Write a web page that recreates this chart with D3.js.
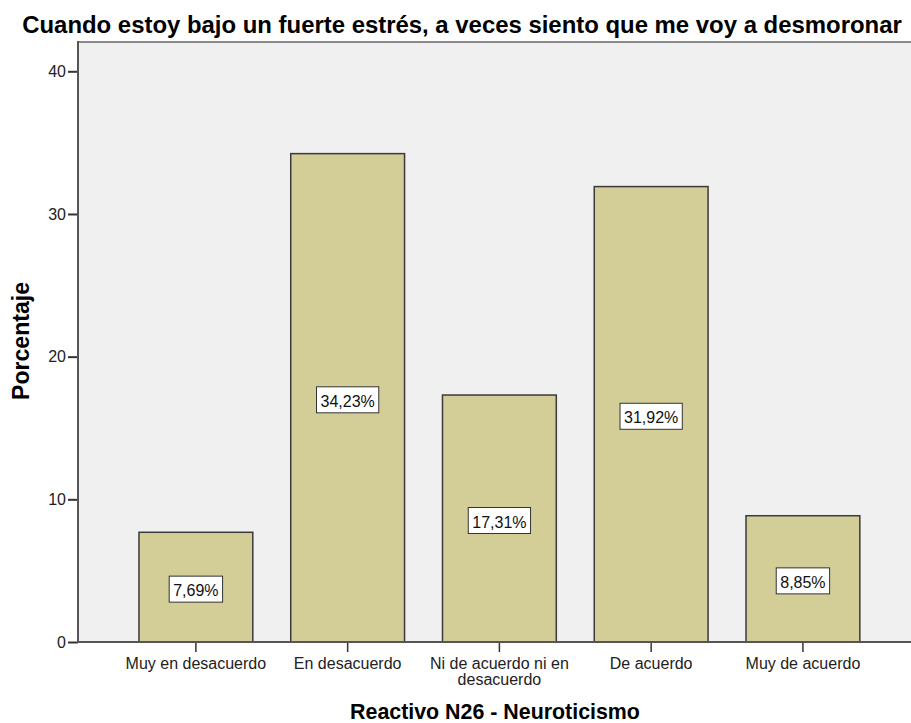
<!DOCTYPE html>
<html>
<head>
<meta charset="utf-8">
<script src="https://cdn.jsdelivr.net/npm/d3@7"></script>
<style>
  html, body { margin: 0; padding: 0; background: #ffffff; }
  svg { display: block; font-family: "Liberation Sans", Arial, sans-serif; }
</style>
</head>
<body>
<svg id="chart" width="911" height="723"></svg>
<script>
const categories = [
  ["Muy en desacuerdo"],
  ["En desacuerdo"],
  ["Ni de acuerdo ni en", "desacuerdo"],
  ["De acuerdo"],
  ["Muy de acuerdo"]
];
const values = [7.69, 34.23, 17.31, 31.92, 8.85];
const valueLabels = ["7,69%", "34,23%", "17,31%", "31,92%", "8,85%"];
const yTicks = [0, 10, 20, 30, 40];
const titleText = "Cuando estoy bajo un fuerte estrés, a veces siento que me voy a desmoronar";
const xTitleText = "Reactivo N26 - Neuroticismo";
const yTitleText = "Porcentaje";

const svg = d3.select("#chart");
const plot = { left: 78, right: 911, top: 42, bottom: 642 };

const y = d3.scaleLinear().domain([0, 40]).range([plot.bottom, 71.3]);
const x = d3.scaleBand()
  .domain(d3.range(values.length))
  .range([120, 878.8])
  .paddingInner(0.25)
  .paddingOuter(0.125);

// plot background
svg.append("rect")
  .attr("x", plot.left).attr("y", plot.top)
  .attr("width", plot.right - plot.left).attr("height", plot.bottom - plot.top)
  .attr("fill", "#f0f0f0");
// top frame line
svg.append("line")
  .attr("x1", plot.left).attr("x2", plot.right)
  .attr("y1", plot.top).attr("y2", plot.top)
  .attr("stroke", "#8a8a8a").attr("stroke-width", 2);

// bars
svg.append("g").selectAll("rect")
  .data(values)
  .join("rect")
  .attr("x", (d, i) => x(i))
  .attr("y", d => y(d))
  .attr("width", x.bandwidth())
  .attr("height", d => y(0) - y(d))
  .attr("fill", "#d3ce97")
  .attr("stroke", "#3a3a3a")
  .attr("stroke-width", 1.5);

// value label boxes
const lab = svg.append("g").selectAll("g")
  .data(values)
  .join("g")
  .attr("transform", (d, i) => `translate(${x(i) + x.bandwidth() / 2},${(y(d) + y(0)) / 2 + 2})`);
lab.append("rect").attr("class", "box")
  .attr("fill", "#ffffff").attr("stroke", "#333").attr("stroke-width", 1);
lab.append("text")
  .attr("text-anchor", "middle")
  .attr("y", 7)
  .attr("font-size", 16)
  .attr("fill", "#111")
  .text((d, i) => valueLabels[i]);
lab.each(function () {
  const g = d3.select(this);
  const w = g.select("text").node().getComputedTextLength();
  g.select("rect.box")
    .attr("x", -w / 2 - 4).attr("y", -13)
    .attr("width", w + 8).attr("height", 26);
});

// y axis
const yAxis = svg.append("g")
  .attr("transform", `translate(${plot.left},0)`)
  .call(d3.axisLeft(y).tickValues(yTicks).tickSize(10).tickPadding(2).tickFormat(d3.format("d")));
yAxis.select(".domain").remove();
yAxis.selectAll(".tick line").attr("stroke", "#333").attr("stroke-width", 2);
yAxis.selectAll(".tick text").attr("font-size", 16).attr("fill", "#222")
  .attr("font-family", "'Liberation Sans', Arial, sans-serif");
svg.append("line")
  .attr("x1", plot.left).attr("x2", plot.left)
  .attr("y1", plot.top - 1).attr("y2", plot.bottom + 1)
  .attr("stroke", "#555").attr("stroke-width", 2);

// x axis
const xAxis = svg.append("g")
  .attr("transform", `translate(0,${plot.bottom})`)
  .call(d3.axisBottom(x).tickSize(10).tickFormat(""));
xAxis.select(".domain").remove();
xAxis.selectAll(".tick line").attr("stroke", "#333").attr("stroke-width", 1.5);
svg.append("line")
  .attr("x1", plot.left).attr("x2", plot.right)
  .attr("y1", plot.bottom).attr("y2", plot.bottom)
  .attr("stroke", "#555").attr("stroke-width", 2);

// x category labels
const xl = svg.append("g").selectAll("text")
  .data(categories)
  .join("text")
  .attr("x", (d, i) => x(i) + x.bandwidth() / 2)
  .attr("y", 669)
  .attr("text-anchor", "middle")
  .attr("font-size", 16)
  .attr("fill", "#222");
xl.each(function (lines) {
  const t = d3.select(this);
  const cx = t.attr("x");
  lines.forEach((s, k) => {
    t.append("tspan").attr("x", cx).attr("dy", k === 0 ? 0 : 16).text(s);
  });
});

function fit(sel, base, target) {
  sel.attr("font-size", base);
  const w = sel.node().getComputedTextLength();
  sel.attr("font-size", base * target / w);
}

// title
const title = svg.append("text")
  .attr("x", 462).attr("y", 33)
  .attr("text-anchor", "middle")
  .attr("font-weight", "bold")
  .attr("fill", "#000")
  .text(titleText);
fit(title, 22, 880);

// x axis title
const xt = svg.append("text")
  .attr("x", 495).attr("y", 719)
  .attr("text-anchor", "middle")
  .attr("font-weight", "bold")
  .attr("fill", "#000")
  .text(xTitleText);
fit(xt, 21, 290);

// y axis title
const yt = svg.append("text")
  .attr("transform", "translate(29,341) rotate(-90)")
  .attr("text-anchor", "middle")
  .attr("font-weight", "bold")
  .attr("fill", "#000")
  .text(yTitleText);
fit(yt, 21, 118);
</script>
</body>
</html>
